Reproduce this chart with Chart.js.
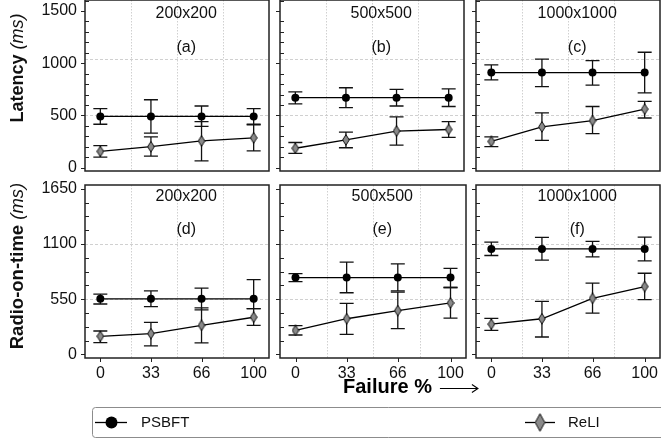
<!DOCTYPE html>
<html><head><meta charset="utf-8">
<script src="https://cdn.jsdelivr.net/npm/chart.js@4.4.1/dist/chart.umd.min.js"></script>
<style>
html,body{margin:0;padding:0;background:#fff;width:661px;height:440px;overflow:hidden;position:relative}
canvas{position:absolute}
</style></head><body>
<script>
// ---------------- data ----------------
const failurePct = [0, 33, 66, 100];
const seriesNames = ['PSBFT', 'ReLI'];
const panelTitles = ['200x200', '500x500', '1000x1000'];
const panelTags = [['(a)', '(b)', '(c)'], ['(d)', '(e)', '(f)']];
const rowTitles = ['Latency', 'Radio-on-time'];
const latencyTicks = [0, 500, 1000, 1500];
const radioTicks = [0, 550, 1100, 1650];

// Latency (ms) per grid size: mean, lower, upper
const latPSBFT   = [[490, 490, 490, 490], [670, 670, 670, 670], [910, 910, 910, 910]];
const latPSBFTLo = [[415, 330, 395, 410], [610, 575, 590, 585], [840, 775, 790, 715]];
const latPSBFTHi = [[565, 650, 590, 565], [725, 765, 750, 755], [985, 1040, 1025, 1105]];
const latReLI    = [[155, 200, 255, 285], [185, 265, 350, 365], [250, 390, 450, 560]];
const latReLILo  = [[100, 110, 65, 160], [135, 190, 215, 290], [200, 260, 325, 475]];
const latReLIHi  = [[210, 295, 440, 415], [240, 340, 485, 440], [295, 525, 585, 635]];

// Radio-on-time (ms)
const rotPSBFT   = [[553, 553, 553, 553], [765, 765, 765, 765], [1050, 1050, 1050, 1050]];
const rotPSBFTLo = [[502, 476, 443, 456], [725, 614, 633, 666], [985, 939, 971, 932]];
const rotPSBFTHi = [[601, 633, 660, 745], [804, 919, 902, 857], [1119, 1166, 1126, 1168]];
const rotReLI    = [[180, 207, 289, 370], [239, 355, 436, 512], [301, 355, 558, 676]];
const rotReLILo  = [[118, 85, 114, 289], [193, 200, 256, 361], [239, 173, 410, 545]];
const rotReLIHi  = [[233, 318, 463, 456], [286, 508, 621, 666], [358, 528, 709, 808]];

// ---------------- styling / layout ----------------
const FONT = '"Liberation Sans", Arial, Helvetica, "DejaVu Sans", sans-serif';
const colLeft = [85, 280, 476];
const panelW = 186;
const rowTop = [-2, 183];
const panelH = 175;

function diamond(w, h) {
  const c = document.createElement('canvas');
  c.width = w; c.height = h;
  const g = c.getContext('2d');
  g.beginPath();
  g.moveTo(w / 2, 0.7); g.lineTo(w - 0.7, h / 2); g.lineTo(w / 2, h - 0.7); g.lineTo(0.7, h / 2); g.closePath();
  g.fillStyle = '#8a8a8a'; g.fill();
  g.lineWidth = 1; g.strokeStyle = '#111'; g.stroke();
  return c;
}
const diamondSmall = diamond(8, 12);
const diamondBig = diamond(11, 19);

const panelPlugin = {
  id: 'panel',
  beforeDatasetsDraw(chart) {
    const o = chart.options.plugins.panel;
    if (!o || o.legend) return;
    const { ctx, chartArea: a } = chart;
    const xs = chart.scales.x, ys = chart.scales.y;
    ctx.save();
    ctx.beginPath(); ctx.rect(a.left, a.top, a.right - a.left, a.bottom - a.top); ctx.clip();
    ctx.strokeStyle = '#c4c4c4'; ctx.lineWidth = 0.8; ctx.setLineDash([1.5, 1.5]);
    o.vGrid.forEach(v => {
      const x = Math.round(xs.getPixelForValue(v)) + 0.5;
      ctx.beginPath(); ctx.moveTo(x, a.top); ctx.lineTo(x, a.bottom); ctx.stroke();
    });
    ctx.setLineDash([3, 2]);
    o.hGrid.forEach(v => {
      const y = Math.round(ys.getPixelForValue(v)) + 0.5;
      ctx.beginPath(); ctx.moveTo(a.left, y); ctx.lineTo(a.right, y); ctx.stroke();
    });
    ctx.setLineDash([]);
    // error bars
    ctx.strokeStyle = '#111'; ctx.lineWidth = 1.3;
    chart.data.datasets.forEach(ds => {
      ds.data.forEach((p, i) => {
        const x = xs.getPixelForValue(p.x);
        const y1 = ys.getPixelForValue(ds.errLo[i]);
        const y2 = ys.getPixelForValue(ds.errHi[i]);
        ctx.beginPath();
        ctx.moveTo(x, y1); ctx.lineTo(x, y2);
        ctx.moveTo(x - 7, y1); ctx.lineTo(x + 7, y1);
        ctx.moveTo(x - 7, y2); ctx.lineTo(x + 7, y2);
        ctx.stroke();
      });
    });
    ctx.restore();
  },
  afterDraw(chart) {
    const o = chart.options.plugins.panel;
    const { ctx, chartArea: a } = chart;
    ctx.save();
    if (o.legend) {
      const bx = 12, by = 7, bw = 620, bh = 30;
      ctx.strokeStyle = '#8c8c8c'; ctx.lineWidth = 1;
      ctx.beginPath(); ctx.roundRect(bx + 0.5, by + 0.5, bw, bh, 3); ctx.stroke();
      const cy = by + bh / 2 + 0.5;
      const items = [{ x0: 15, x1: 47, mx: 31.5, tx: 61 }, { x0: 445, x1: 475, mx: 460, tx: 488 }];
      chart.data.datasets.forEach((ds, k) => {
        const it = items[k];
        ctx.strokeStyle = '#000'; ctx.lineWidth = 1.3;
        ctx.beginPath(); ctx.moveTo(it.x0, cy); ctx.lineTo(it.x1, cy); ctx.stroke();
        if (k === 0) {
          ctx.fillStyle = '#000'; ctx.beginPath(); ctx.arc(it.mx, cy, 6, 0, Math.PI * 2); ctx.fill();
        } else {
          ctx.drawImage(diamondBig, it.mx - diamondBig.width / 2, cy - diamondBig.height / 2);
        }
        ctx.fillStyle = '#111'; ctx.font = '15px ' + FONT;
        ctx.textAlign = 'left'; ctx.textBaseline = 'middle';
        ctx.fillText(ds.label, it.tx, cy + 0.5);
      });
      ctx.restore();
      return;
    }
    const xs = chart.scales.x, ys = chart.scales.y;
    // frame
    ctx.strokeStyle = '#222'; ctx.lineWidth = 1.5;
    ctx.strokeRect(a.left, a.top, a.right - a.left, a.bottom - a.top);
    // y ticks: majors outward, minors inward
    ctx.lineWidth = 1; ctx.strokeStyle = '#222';
    o.majors.forEach(v => {
      const y = Math.round(ys.getPixelForValue(v)) + 0.5;
      ctx.beginPath(); ctx.moveTo(a.left - 4, y); ctx.lineTo(a.left, y); ctx.stroke();
    });
    for (let v = o.minorStep; v < ys.max; v += o.minorStep) {
      if (o.majors.some(m => Math.abs(m - v) < 1e-6)) continue;
      const y = Math.round(ys.getPixelForValue(v)) + 0.5;
      ctx.beginPath(); ctx.moveTo(a.left, y); ctx.lineTo(a.left + 4, y); ctx.stroke();
    }
    if (o.row === 1) {
      failurePct.forEach(v => {
        const x = Math.round(xs.getPixelForValue(v)) + 0.5;
        ctx.beginPath(); ctx.moveTo(x, a.bottom); ctx.lineTo(x, a.bottom + 4); ctx.stroke();
      });
    }
    // panel labels
    ctx.fillStyle = '#111'; ctx.textAlign = 'center'; ctx.textBaseline = 'middle';
    ctx.font = '16px ' + FONT;
    ctx.fillText(o.title, xs.getPixelForValue(56), ys.getPixelForValue(o.titleY));
    ctx.fillText(o.tag, xs.getPixelForValue(56), ys.getPixelForValue(o.tagY));
    // row title (left column)
    if (o.col === 0) {
      ctx.save();
      const cy = o.rowTitleCY;
      ctx.translate(18, cy);
      ctx.rotate(-Math.PI / 2);
      const sz = o.row === 0 ? 18 : 18.5;
      const f1 = 'bold ' + sz + 'px ' + FONT, f2 = 'italic ' + sz + 'px ' + FONT;
      ctx.font = f1; const w1 = ctx.measureText(o.rowTitle + ' ').width;
      ctx.font = f2; const w2 = ctx.measureText('(ms)').width;
      const start = -(w1 + w2) / 2;
      ctx.textAlign = 'left'; ctx.textBaseline = 'middle';
      ctx.font = f1; ctx.fillText(o.rowTitle + ' ', start, 0);
      ctx.font = f2; ctx.fillText('(ms)', start + w1, 0);
      ctx.restore();
    }
    // x title (bottom middle)
    if (o.row === 1 && o.col === 1) {
      ctx.textAlign = 'left'; ctx.textBaseline = 'middle';
      ctx.font = 'bold 20px ' + FONT;
      ctx.fillStyle = '#000';
      const t = 'Failure %';
      const x0 = 343 - o.canvasLeft, y0 = 387 - o.canvasTop;
      ctx.fillText(t, x0, y0);
      const w = ctx.measureText(t).width;
      // long right arrow
      const ax = x0 + w + 8, ay = Math.round(y0 + 1) + 0.5, len = 38;
      ctx.strokeStyle = '#000'; ctx.lineWidth = 1.1;
      ctx.beginPath();
      ctx.moveTo(ax, ay); ctx.lineTo(ax + len, ay);
      ctx.moveTo(ax + len - 6, ay - 4); ctx.lineTo(ax + len, ay); ctx.lineTo(ax + len - 6, ay + 4);
      ctx.stroke();
    }
    ctx.restore();
  }
};
Chart.register(panelPlugin);

function zeroPad(s) { s.paddingTop = 0; s.paddingBottom = 0; s.paddingLeft = 0; s.paddingRight = 0; }

function makePanel(row, col) {
  const AX = col === 0 ? 85 : 50;
  const padT = 2, padR = (row === 1 && col === 1) ? 40 : 2, padB = row === 0 ? 2 : 0;
  const xAxisH = row === 0 ? 0 : 40;
  const cw = AX + panelW + padR;
  const ch = padT + panelH + padB + xAxisH;
  const left = colLeft[col] - AX;
  const top = rowTop[row] - padT;
  const cv = document.createElement('canvas');
  cv.width = cw; cv.height = ch;
  cv.style.left = left + 'px'; cv.style.top = top + 'px';
  cv.style.width = cw + 'px'; cv.style.height = ch + 'px';
  document.body.appendChild(cv);

  const mean = row === 0 ? [latPSBFT, latReLI] : [rotPSBFT, rotReLI];
  const lo = row === 0 ? [latPSBFTLo, latReLILo] : [rotPSBFTLo, rotReLILo];
  const hi = row === 0 ? [latPSBFTHi, latReLIHi] : [rotPSBFTHi, rotReLIHi];
  const majors = row === 0 ? latencyTicks : radioTicks;
  const yMin = row === 0 ? -33 : -36;
  const yMax = row === 0 ? 1606 : 1687;

  const datasets = [0, 1].map(k => ({
    label: seriesNames[k],
    data: failurePct.map((x, i) => ({ x: x, y: mean[k][col][i] })),
    errLo: lo[k][col],
    errHi: hi[k][col],
    showLine: true,
    borderColor: '#000',
    borderWidth: 1.3,
    backgroundColor: k === 0 ? '#000' : '#8a8a8a',
    pointStyle: k === 0 ? 'circle' : diamondSmall,
    pointRadius: 4,
    pointBorderWidth: 0,
    pointBackgroundColor: '#000',
    tension: 0
  }));

  return new Chart(cv, {
    type: 'scatter',
    data: { datasets },
    options: {
      responsive: false, animation: false, devicePixelRatio: 1,
      layout: { padding: { top: padT, right: padR, bottom: padB, left: 0 } },
      plugins: {
        legend: { display: false }, tooltip: { enabled: false },
        panel: {
          row, col, majors,
          minorStep: row === 0 ? 100 : 137.5,
          vGrid: [20, 50, 80],
          hGrid: row === 0 ? [500, 1040] : [550, 1100],
          title: panelTitles[col], tag: panelTags[row][col],
          titleY: row === 0 ? 1475 : 1569,
          tagY: row === 0 ? 1147 : 1241,
          rowTitle: rowTitles[row],
          rowTitleCY: row === 0 ? 68 - top : 266 - top,
          canvasLeft: left, canvasTop: top
        }
      },
      scales: {
        x: {
          type: 'linear', min: -10, max: 110, display: row === 1,
          afterBuildTicks: s => { s.ticks = failurePct.map(v => ({ value: v })); },
          afterFit: s => { s.height = xAxisH; zeroPad(s); },
          grid: { display: false, drawTicks: false },
          border: { display: false },
          ticks: { autoSkip: false, maxRotation: 0, padding: 6, color: '#111', font: { family: FONT, size: 16 }, callback: v => String(v) }
        },
        y: {
          type: 'linear', min: yMin, max: yMax,
          afterBuildTicks: s => { s.ticks = majors.map(v => ({ value: v })); },
          afterFit: s => { s.width = AX; zeroPad(s); },
          grid: { display: false, drawTicks: false },
          border: { display: false },
          ticks: { display: col === 0, autoSkip: false, padding: 8, color: '#111', font: { family: FONT, size: 16 }, callback: v => String(v) }
        }
      }
    }
  });
}

for (let r = 0; r < 2; r++) for (let c = 0; c < 3; c++) makePanel(r, c);

// legend
(function () {
  const cv = document.createElement('canvas');
  cv.width = 600; cv.height = 40;
  cv.style.left = '80px'; cv.style.top = '400px';
  cv.style.width = '600px'; cv.style.height = '40px';
  document.body.appendChild(cv);
  new Chart(cv, {
    type: 'scatter',
    data: { datasets: seriesNames.map(n => ({ label: n, data: [] })) },
    options: {
      responsive: false, animation: false, devicePixelRatio: 1,
      scales: { x: { display: false }, y: { display: false } },
      plugins: { legend: { display: false }, tooltip: { enabled: false }, panel: { legend: true } }
    }
  });
})();
</script>
</body></html>
